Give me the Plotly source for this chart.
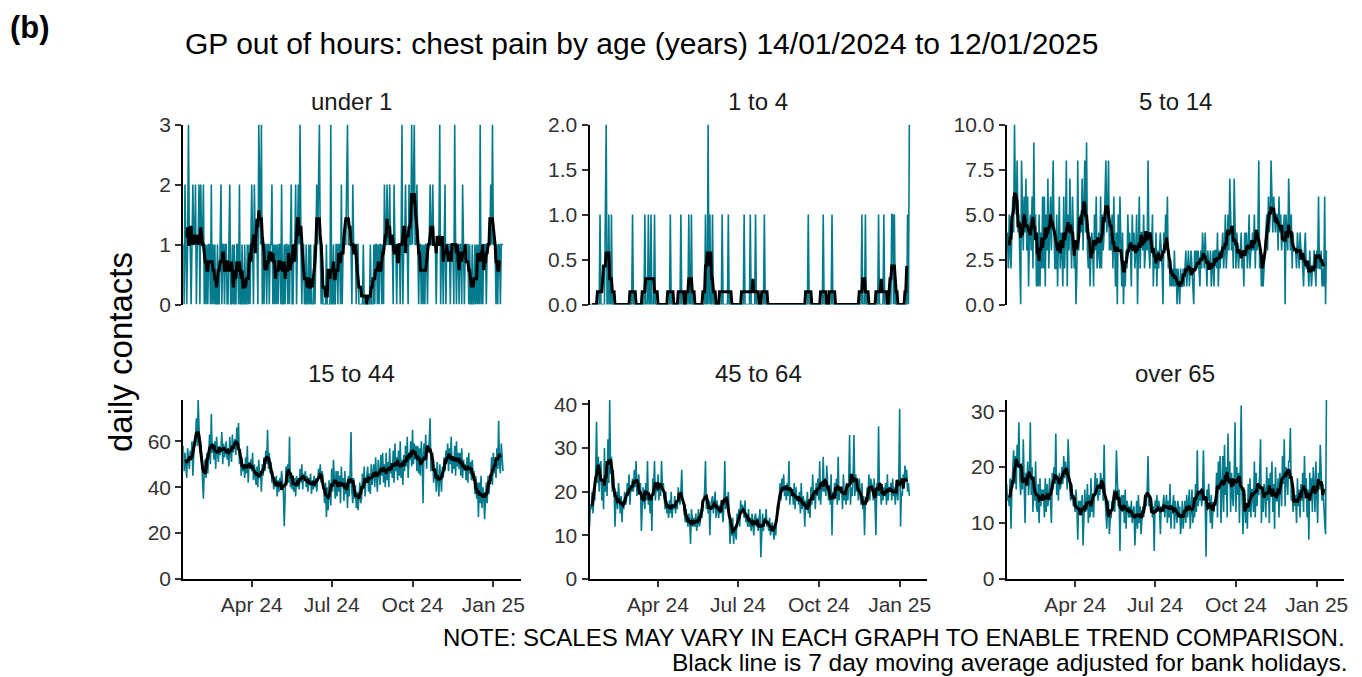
import pandas as pd
import plotly.graph_objects as go

# ---------------- data ----------------
start_date = "2024-01-14"
end_date = "2025-01-12"
dates = pd.date_range(start_date, end_date, freq="D")

panel_titles = ["under 1", "1 to 4", "5 to 14", "15 to 44", "45 to 64", "over 65"]

x_tick_vals = ["2024-04-01", "2024-07-01", "2024-10-01", "2025-01-01"]
x_tick_text = ["Apr 24", "Jul 24", "Oct 24", "Jan 25"]

y_tick_vals = [
    [0, 1, 2, 3],
    [0, 0.5, 1, 1.5, 2],
    [0, 2.5, 5, 7.5, 10],
    [0, 20, 40, 60],
    [0, 10, 20, 30, 40],
    [0, 10, 20, 30],
]
y_tick_text = [
    ["0", "1", "2", "3"],
    ["0.0", "0.5", "1.0", "1.5", "2.0"],
    ["0.0", "2.5", "5.0", "7.5", "10.0"],
    ["0", "20", "40", "60"],
    ["0", "10", "20", "30", "40"],
    ["0", "10", "20", "30"],
]

under_1 = [
    1, 0, 2, 1, 0, 1, 3,
    1, 1, 0, 1, 2, 1, 1,
    2, 0, 1, 1, 2, 0, 2,
    1, 1, 2, 0, 1, 0, 1,
    0, 1, 1, 0, 2, 0, 1,
    0, 1, 0, 0, 1, 0, 0,
    1, 2, 0, 1, 1, 0, 1,
    1, 0, 0, 1, 2, 0, 0,
    1, 0, 1, 0, 0, 1, 1,
    0, 2, 0, 0, 1, 0, 0,
    1, 0, 0, 1, 0, 1, 0,
    1, 2, 1, 0, 2, 1, 1,
    1, 0, 3, 2, 1, 3, 0,
    1, 0, 1, 1, 0, 1, 1,
    0, 1, 1, 2, 0, 1, 0,
    1, 0, 1, 0, 1, 1, 0,
    2, 0, 0, 1, 0, 1, 1,
    0, 1, 0, 1, 2, 0, 0,
    1, 1, 2, 0, 1, 2, 1,
    3, 1, 0, 1, 1, 0, 0,
    1, 0, 0, 1, 0, 1, 0,
    0, 0, 1, 0, 1, 2, 1,
    2, 3, 1, 0, 1, 0, 0,
    0, 0, 1, 0, 0, 0, 0,
    3, 0, 0, 1, 0, 0, 1,
    1, 0, 1, 1, 0, 2, 0,
    1, 1, 1, 1, 2, 3, 1,
    1, 1, 1, 0, 2, 1, 1,
    1, 0, 1, 1, 0, 0, 0,
    0, 0, 1, 0, 0, 0, 0,
    0, 0, 0, 1, 0, 0, 0,
    1, 0, 1, 1, 0, 1, 0,
    1, 1, 0, 1, 0, 2, 1,
    1, 2, 1, 1, 2, 1, 1,
    1, 0, 2, 1, 1, 0, 1,
    1, 1, 0, 1, 3, 0, 1,
    1, 2, 1, 1, 0, 2, 1,
    1, 3, 1, 2, 3, 1, 1,
    2, 1, 0, 1, 1, 0, 1,
    0, 1, 0, 1, 1, 0, 1,
    1, 2, 1, 1, 2, 1, 1,
    1, 0, 1, 1, 1, 3, 0,
    1, 1, 0, 1, 2, 0, 1,
    1, 1, 1, 0, 1, 1, 1,
    0, 3, 1, 0, 1, 1, 0,
    1, 1, 0, 2, 1, 0, 1,
    1, 1, 1, 0, 1, 0, 0,
    1, 0, 0, 1, 0, 1, 0,
    1, 0, 3, 0, 1, 0, 1,
    1, 1, 0, 1, 1, 1, 1,
    2, 1, 3, 1, 1, 1, 0,
    1, 0, 1, 1, 0, 1, 1,
    1,
]

age_1_to_4 = [
    0, 0, 0, 0, 0, 0, 0,
    0, 0, 0, 0, 0, 1, 0,
    0, 0, 0, 0, 1, 2, 0,
    0, 1, 0, 0, 1, 0, 0,
    0, 0, 0, 0, 0, 0, 0,
    0, 0, 0, 0, 0, 0, 0,
    0, 0, 0, 0, 0, 0, 0,
    1, 0, 0, 0, 0, 0, 0,
    0, 0, 0, 0, 0, 0, 0,
    1, 0, 0, 0, 1, 0, 0,
    1, 0, 0, 0, 1, 0, 0,
    0, 0, 0, 0, 0, 0, 0,
    0, 0, 0, 0, 0, 0, 0,
    0, 1, 0, 0, 0, 0, 0,
    0, 0, 0, 0, 0, 0, 1,
    0, 0, 0, 0, 0, 0, 0,
    0, 1, 0, 0, 1, 0, 0,
    0, 0, 0, 0, 0, 0, 0,
    0, 0, 0, 0, 0, 0, 1,
    0, 0, 2, 0, 1, 0, 0,
    1, 0, 0, 0, 0, 0, 0,
    0, 0, 0, 0, 1, 0, 0,
    0, 0, 0, 0, 1, 0, 0,
    0, 0, 0, 0, 0, 0, 0,
    0, 0, 0, 0, 0, 0, 0,
    0, 1, 0, 0, 0, 0, 0,
    0, 1, 0, 0, 0, 0, 0,
    1, 0, 0, 0, 0, 0, 0,
    0, 0, 0, 1, 0, 0, 0,
    0, 0, 0, 0, 0, 0, 0,
    0, 0, 0, 0, 0, 0, 0,
    0, 0, 0, 0, 0, 0, 0,
    0, 0, 0, 0, 0, 0, 0,
    0, 0, 0, 0, 0, 0, 0,
    0, 0, 0, 0, 0, 0, 0,
    0, 0, 0, 0, 1, 0, 0,
    0, 0, 0, 0, 0, 0, 0,
    0, 0, 0, 0, 0, 0, 0,
    1, 0, 0, 0, 0, 0, 0,
    0, 0, 0, 1, 0, 0, 0,
    0, 0, 0, 0, 0, 0, 0,
    0, 0, 0, 0, 0, 0, 0,
    0, 0, 0, 0, 0, 0, 0,
    0, 0, 0, 0, 0, 0, 0,
    0, 0, 1, 0, 0, 0, 1,
    0, 0, 0, 0, 0, 0, 0,
    0, 0, 0, 0, 0, 0, 0,
    1, 0, 0, 0, 0, 0, 1,
    0, 0, 0, 0, 0, 0, 0,
    0, 1, 1, 0, 1, 0, 0,
    0, 0, 0, 0, 0, 0, 0,
    0, 0, 0, 0, 0, 1, 0,
    2,
]

age_5_to_14 = [
    3, 4, 2, 5, 3, 2, 4,
    6, 4, 10, 6, 5, 8, 4,
    5, 2, 0, 8, 4, 3, 6,
    4, 7, 3, 6, 1, 4, 5,
    3, 6, 2, 9, 4, 5, 1,
    3, 1, 5, 1, 4, 2, 6,
    2, 6, 1, 5, 3, 7, 2,
    4, 6, 3, 5, 8, 4, 2,
    2, 5, 1, 3, 6, 2, 4,
    3, 1, 6, 2, 4, 8, 1,
    5, 3, 7, 4, 2, 6, 4,
    2, 3, 0, 2, 8, 3, 4,
    5, 4, 7, 3, 5, 8, 4,
    9, 3, 2, 4, 1, 3, 4,
    3, 1, 5, 3, 6, 2, 3,
    4, 2, 6, 2, 5, 3, 4,
    6, 8, 4, 5, 8, 3, 4,
    3, 5, 2, 6, 3, 1, 4,
    0, 5, 3, 6, 2, 1, 4,
    0, 2, 1, 3, 2, 5, 3,
    4, 3, 1, 5, 3, 4, 2,
    3, 5, 0, 3, 6, 2, 4,
    4, 3, 5, 2, 3, 4, 3,
    8, 3, 2, 4, 3, 5, 1,
    3, 2, 4, 1, 3, 2, 3,
    4, 3, 2, 0, 4, 3, 5,
    3, 6, 2, 3, 1, 2, 1,
    2, 1, 3, 1, 2, 0, 2,
    1, 0, 2, 1, 1, 2, 1,
    2, 3, 1, 2, 3, 1, 2,
    3, 2, 1, 0, 3, 2, 3,
    2, 3, 2, 1, 3, 2, 4,
    3, 2, 4, 2, 1, 3, 2,
    2, 3, 1, 2, 3, 1, 3,
    3, 2, 4, 1, 3, 2, 3,
    3, 4, 2, 3, 5, 2, 3,
    5, 3, 7, 4, 3, 4, 2,
    7, 3, 2, 4, 3, 2, 3,
    3, 4, 2, 3, 1, 4, 3,
    4, 2, 3, 5, 2, 3, 3,
    4, 3, 5, 2, 4, 3, 4,
    8, 2, 3, 1, 2, 1, 2,
    3, 4, 5, 3, 6, 4, 5,
    8, 5, 4, 6, 5, 4, 5,
    5, 3, 6, 4, 5, 3, 4,
    4, 5, 0, 5, 4, 3, 7,
    4, 3, 5, 2, 4, 3, 3,
    3, 2, 4, 3, 2, 4, 3,
    3, 2, 1, 3, 4, 2, 2,
    2, 1, 3, 2, 1, 2, 2,
    3, 2, 1, 3, 2, 6, 2,
    2, 3, 1, 2, 1, 6, 0,
    3,
]

age_15_to_44 = [
    58, 47, 55, 50, 44, 57, 53,
    48, 56, 52, 60, 45, 54, 57,
    62, 70, 58, 78, 66, 55, 60,
    50, 41, 35, 48, 52, 44, 55,
    46, 58, 63, 50, 72, 55, 59,
    52, 60, 48, 62, 56, 51, 58,
    54, 57, 64, 50, 59, 53, 58,
    60, 52, 57, 49, 62, 55, 51,
    63, 55, 59, 61, 54, 66, 57,
    68, 50, 56, 45, 52, 47, 49,
    44, 53, 46, 58, 42, 51, 48,
    52, 47, 55, 43, 50, 45, 41,
    49, 40, 52, 44, 47, 38, 50,
    45, 53, 47, 56, 50, 65, 48,
    55, 46, 51, 42, 47, 39, 44,
    40, 45, 36, 43, 38, 44, 41,
    47, 41, 38, 23, 45, 49, 42,
    50, 42, 62, 40, 46, 39, 45,
    38, 44, 36, 45, 40, 43, 39,
    48, 42, 50, 39, 46, 44, 47,
    40, 45, 38, 44, 41, 46, 37,
    43, 39, 45, 40, 44, 38, 42,
    48, 44, 50, 42, 47, 45, 40,
    33, 42, 27, 40, 30, 43, 35,
    32, 48, 38, 52, 43, 35, 47,
    36, 47, 38, 45, 33, 49, 40,
    44, 34, 47, 37, 42, 31, 45,
    36, 46, 64, 38, 33, 44, 35,
    41, 31, 38, 30, 36, 42, 33,
    35, 46, 39, 49, 36, 43, 45,
    49, 38, 46, 37, 50, 41, 46,
    50, 40, 53, 44, 38, 52, 45,
    41, 54, 45, 55, 42, 50, 40,
    55, 43, 51, 40, 57, 46, 49,
    44, 56, 42, 59, 47, 53, 43,
    56, 45, 60, 44, 52, 41, 54,
    47, 58, 49, 62, 44, 53, 52,
    60, 49, 65, 50, 59, 52, 58,
    47, 58, 46, 57, 45, 60, 53,
    33, 59, 52, 63, 48, 58, 55,
    60, 70, 47, 52, 55, 42, 48,
    48, 38, 51, 43, 36, 50, 44,
    38, 49, 44, 53, 47, 56, 51,
    59, 47, 57, 50, 62, 46, 53,
    48, 58, 45, 60, 49, 55, 48,
    55, 45, 57, 44, 52, 48, 50,
    43, 53, 42, 55, 46, 51, 43,
    52, 44, 47, 37, 45, 35, 42,
    27, 42, 33, 45, 31, 40, 37,
    26, 39, 42, 33, 45, 37, 43,
    43, 53, 41, 55, 46, 52, 44,
    57, 48, 69, 50, 46, 59, 52,
    47,
]

age_45_to_64 = [
    12, 17, 16, 20, 15, 19, 18,
    24, 36, 22, 28, 20, 26, 27,
    18, 22, 16, 30, 20, 25, 19,
    32, 22, 41, 24, 28, 20, 25,
    21, 12, 18, 20, 16, 22, 19,
    15, 19, 13, 18, 16, 20, 17,
    18, 22, 19, 24, 17, 21, 20,
    23, 20, 25, 21, 27, 19, 22,
    24, 20, 22, 11, 18, 21, 19,
    16, 22, 18, 27, 17, 20, 15,
    19, 11, 23, 21, 27, 18, 22,
    20, 24, 18, 22, 19, 27, 21,
    22, 18, 16, 20, 15, 17, 14,
    18, 15, 20, 14, 17, 16, 19,
    15, 18, 16, 21, 19, 17, 20,
    25, 18, 17, 15, 13, 16, 14,
    12, 15, 13, 8, 16, 14, 12,
    14, 12, 15, 11, 13, 16, 12,
    13, 16, 14, 17, 18, 20, 27,
    16, 19, 15, 18, 10, 17, 18,
    19, 15, 17, 20, 14, 18, 16,
    14, 17, 15, 18, 16, 13, 17,
    27, 16, 19, 17, 20, 15, 8,
    13, 10, 14, 8, 12, 11, 9,
    15, 13, 16, 12, 18, 15, 17,
    16, 14, 18, 13, 15, 12, 16,
    12, 14, 11, 15, 13, 10, 14,
    15, 12, 14, 11, 13, 16, 5,
    12, 15, 11, 14, 13, 16, 12,
    13, 11, 14, 10, 12, 13, 11,
    9, 12, 10, 14, 17, 16, 19,
    22, 18, 23, 20, 24, 19, 21,
    18, 22, 19, 27, 17, 21, 20,
    20, 17, 22, 16, 21, 18, 19,
    17, 20, 15, 22, 16, 19, 18,
    12, 18, 16, 20, 15, 17, 14,
    21, 17, 24, 18, 20, 16, 22,
    19, 23, 18, 27, 17, 21, 20,
    28, 20, 23, 19, 26, 22, 18,
    21, 17, 24, 10, 20, 18, 22,
    19, 23, 17, 28, 18, 21, 20,
    21, 16, 24, 18, 20, 17, 22,
    18, 22, 33, 17, 21, 19, 23,
    33, 19, 24, 20, 22, 18, 23,
    20, 17, 22, 16, 19, 10, 18,
    17, 21, 19, 24, 18, 23, 22,
    21, 18, 23, 17, 10, 22, 19,
    35, 19, 22, 17, 20, 18, 21,
    19, 22, 17, 24, 18, 21, 20,
    22, 18, 23, 19, 21, 17, 20,
    21, 18, 23, 39, 12, 20, 19,
    24, 21, 26, 23, 25, 20, 22,
    19,
]

over_65 = [
    17, 14, 15, 13, 18, 9, 16,
    19, 23, 17, 22, 16, 24, 20,
    28, 18, 15, 20, 16, 25, 17,
    10, 19, 17, 21, 15, 18, 28,
    15, 20, 12, 18, 14, 21, 13,
    12, 17, 10, 18, 13, 16, 14,
    16, 11, 18, 12, 17, 13, 15,
    18, 14, 10, 19, 16, 20, 17,
    26, 15, 18, 14, 19, 16, 17,
    20, 17, 22, 18, 21, 19, 16,
    25, 18, 16, 14, 17, 15, 13,
    15, 12, 16, 13, 7, 14, 12,
    14, 12, 15, 6, 13, 16, 12,
    13, 17, 10, 15, 11, 18, 12,
    14, 11, 16, 19, 15, 18, 14,
    17, 15, 19, 16, 18, 14, 24,
    15, 12, 9, 13, 14, 8, 11,
    11, 14, 13, 16, 12, 15, 23,
    15, 13, 16, 5, 14, 15, 12,
    15, 10, 16, 9, 14, 13, 11,
    13, 11, 14, 10, 12, 13, 6,
    12, 14, 9, 15, 10, 13, 8,
    10, 13, 11, 14, 15, 13, 16,
    22, 13, 15, 12, 14, 11, 13,
    5, 14, 13, 15, 12, 14, 13,
    8, 13, 12, 14, 15, 11, 13,
    15, 10, 14, 11, 17, 9, 13,
    13, 15, 9, 14, 12, 10, 14,
    11, 13, 8, 10, 14, 9, 12,
    14, 10, 15, 11, 13, 16, 9,
    12, 16, 10, 13, 11, 17, 12,
    23, 13, 15, 14, 16, 13, 15,
    23, 15, 14, 4, 16, 14, 17,
    14, 10, 15, 9, 13, 12, 14,
    14, 19, 11, 21, 16, 22, 10,
    16, 22, 12, 24, 15, 20, 11,
    26, 17, 21, 12, 19, 15, 13,
    18, 28, 12, 20, 15, 19, 10,
    19, 31, 15, 8, 14, 16, 10,
    13, 9, 17, 12, 18, 11, 16,
    16, 12, 21, 11, 19, 13, 17,
    15, 19, 25, 10, 16, 12, 17,
    16, 11, 20, 14, 18, 10, 19,
    15, 21, 12, 17, 9, 20, 14,
    14, 18, 11, 19, 17, 13, 22,
    17, 25, 13, 20, 19, 15, 21,
    21, 27, 14, 17, 12, 15, 13,
    15, 10, 18, 13, 16, 11, 17,
    14, 19, 12, 22, 15, 18, 11,
    16, 7, 19, 15, 18, 12, 20,
    17, 12, 21, 15, 10, 19, 16,
    24, 20, 14, 17, 12, 10, 8,
    32,
]

series = [under_1, age_1_to_4, age_5_to_14, age_15_to_44, age_45_to_64, over_65]

# ---------------- styling / layout ----------------
W, H = 1362, 677
TEAL = "#037B8D"
FONT = "Liberation Sans, Arial, sans-serif"
TICK_COLOR = "#333333"

x_range = ["2024-01-14", "2025-02-01"]
col_px = [(183.2, 520.6), (589.5, 926.9), (1006.6, 1344.0)]
row_px = [(124.5, 304.5), (400.0, 579.0)]
strip_y = [101, 373]

fig = go.Figure()
layout = {}
annotations = []

for i, vals in enumerate(series):
    r, c = divmod(i, 3)
    sfx = "" if i == 0 else str(i + 1)
    s = pd.Series(vals, index=dates[: len(vals)], dtype=float)
    ma = s.rolling(7, center=True).mean()

    fig.add_trace(go.Scatter(
        x=s.index, y=s.values, mode="lines",
        line=dict(color=TEAL, width=1.6),
        xaxis="x" + sfx, yaxis="y" + sfx, showlegend=False, hoverinfo="skip",
    ))
    fig.add_trace(go.Scatter(
        x=ma.index, y=ma.values, mode="lines",
        line=dict(color="black", width=3),
        xaxis="x" + sfx, yaxis="y" + sfx, showlegend=False, hoverinfo="skip",
    ))

    x0, x1 = col_px[c]
    y0, y1 = row_px[r]
    bottom = r == 1
    layout["xaxis" + sfx] = dict(
        domain=[x0 / W, x1 / W], anchor="y" + sfx, range=x_range, type="date",
        showline=bottom, linecolor="black", linewidth=2,
        ticks="outside" if bottom else "", ticklen=6, tickwidth=2, tickcolor=TICK_COLOR,
        tickvals=x_tick_vals, ticktext=x_tick_text, showticklabels=bottom,
        tickfont=dict(family=FONT, size=21, color=TICK_COLOR),
        showgrid=False, zeroline=False, fixedrange=True, automargin=False,
    )
    layout["yaxis" + sfx] = dict(
        domain=[1 - y1 / H, 1 - y0 / H], anchor="x" + sfx, range=[0, max(vals)],
        showline=True, linecolor="black", linewidth=2,
        ticks="outside", ticklen=6, tickwidth=2, tickcolor=TICK_COLOR,
        tickvals=y_tick_vals[i], ticktext=y_tick_text[i],
        tickfont=dict(family=FONT, size=21, color=TICK_COLOR),
        showgrid=False, zeroline=False, fixedrange=True, automargin=False,
    )
    annotations.append(dict(
        text=panel_titles[i], x=(x0 + x1) / 2 / W, y=1 - strip_y[r] / H,
        xref="paper", yref="paper", xanchor="center", yanchor="middle",
        showarrow=False, font=dict(family=FONT, size=24, color="#1a1a1a"),
    ))

annotations += [
    dict(text="<b>(b)</b>", x=8 / W, y=1 - 27 / H, xref="paper", yref="paper",
         xanchor="left", yanchor="middle", showarrow=False,
         font=dict(family=FONT, size=31, color="black")),
    dict(text="GP out of hours: chest pain by age (years) 14/01/2024 to 12/01/2025",
         x=183 / W, y=1 - 43 / H, xref="paper", yref="paper",
         xanchor="left", yanchor="middle", showarrow=False,
         font=dict(family=FONT, size=30, color="black")),
    dict(text="daily contacts", x=121 / W, y=1 - 352 / H, xref="paper", yref="paper",
         xanchor="center", yanchor="middle", textangle=-90, showarrow=False,
         font=dict(family=FONT, size=33, color="black")),
    dict(text="NOTE: SCALES MAY VARY IN EACH GRAPH TO ENABLE TREND COMPARISON.",
         x=1347 / W, y=1 - 637 / H, xref="paper", yref="paper",
         xanchor="right", yanchor="middle", showarrow=False,
         font=dict(family=FONT, size=24, color="black")),
    dict(text="Black line is 7 day moving average adjusted for bank holidays.",
         x=1350 / W, y=1 - 662 / H, xref="paper", yref="paper",
         xanchor="right", yanchor="middle", showarrow=False,
         font=dict(family=FONT, size=24.5, color="black")),
]

fig.update_layout(
    width=W, height=H,
    margin=dict(l=0, r=0, t=0, b=0, pad=0, autoexpand=False),
    paper_bgcolor="white", plot_bgcolor="white",
    showlegend=False,
    annotations=annotations,
    font=dict(family=FONT),
    **layout,
)

fig.write_html(
    "out.html", include_plotlyjs=True, config={"displayModeBar": False},
    post_script="document.body.style.margin='0px';document.body.style.overflow='hidden';",
)
